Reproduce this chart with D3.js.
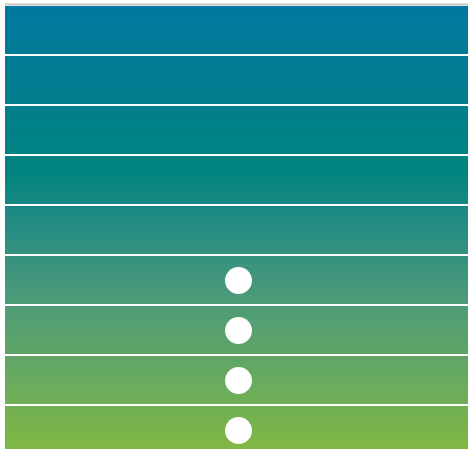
<!DOCTYPE html>
<html><head><meta charset="utf-8">
<script src="https://cdn.jsdelivr.net/npm/d3@7"></script>
<style>html,body{margin:0;padding:0;background:#fff;overflow:hidden}</style>
</head><body><svg id="c" width="468" height="449"></svg>
<script>
const categories = ["R1","R2","R3","R4","R5","R6","R7","R8","R9"];
const values = [null,null,null,null,null,0.5,0.5,0.5,0.5];
const xDomain = [0, 1];

const W = 468, H = 449;
const m = {top: 6, left: 5};
const rowPitch = 50;
const svg = d3.select("#c");
const defs = svg.append("defs");
const grad = defs.append("linearGradient").attr("id","g")
  .attr("gradientUnits","userSpaceOnUse").attr("x1",0).attr("y1",m.top).attr("x2",0).attr("y2",H);
[[0,"#00789f"],[0.38,"#01847f"],[0.5,"#268c83"],[0.65,"#4a997a"],[0.82,"#65a863"],[1,"#80b842"]]
  .forEach(([o,c])=>grad.append("stop").attr("offset",o).attr("stop-color",c));

const y = d3.scaleBand().domain(categories).range([m.top, m.top + rowPitch*categories.length]).paddingInner(0);
const x = d3.scaleLinear().domain(xDomain).range([m.left, 472]);

svg.append("rect").attr("x",m.left).attr("y",m.top).attr("width",W-m.left).attr("height",H-m.top).attr("fill","url(#g)");
svg.selectAll("line.sep").data(categories.slice(1)).join("line")
  .attr("x1",m.left).attr("x2",W)
  .attr("y1",d=>y(d)-1).attr("y2",d=>y(d)-1)
  .attr("stroke","#fff").attr("stroke-width",2);
svg.append("line").attr("x1",m.left).attr("x2",W).attr("y1",m.top-1.5).attr("y2",m.top-1.5)
  .attr("stroke","#c4c4c4").attr("stroke-width",2);
svg.selectAll("circle").data(categories.map((c,i)=>({c,v:values[i]})).filter(d=>d.v!=null)).join("circle")
  .attr("cx",d=>x(d.v)).attr("cy",d=>y(d.c)+y.bandwidth()/2-0.5).attr("r",13.5).attr("fill","#fff");
</script></body></html>
